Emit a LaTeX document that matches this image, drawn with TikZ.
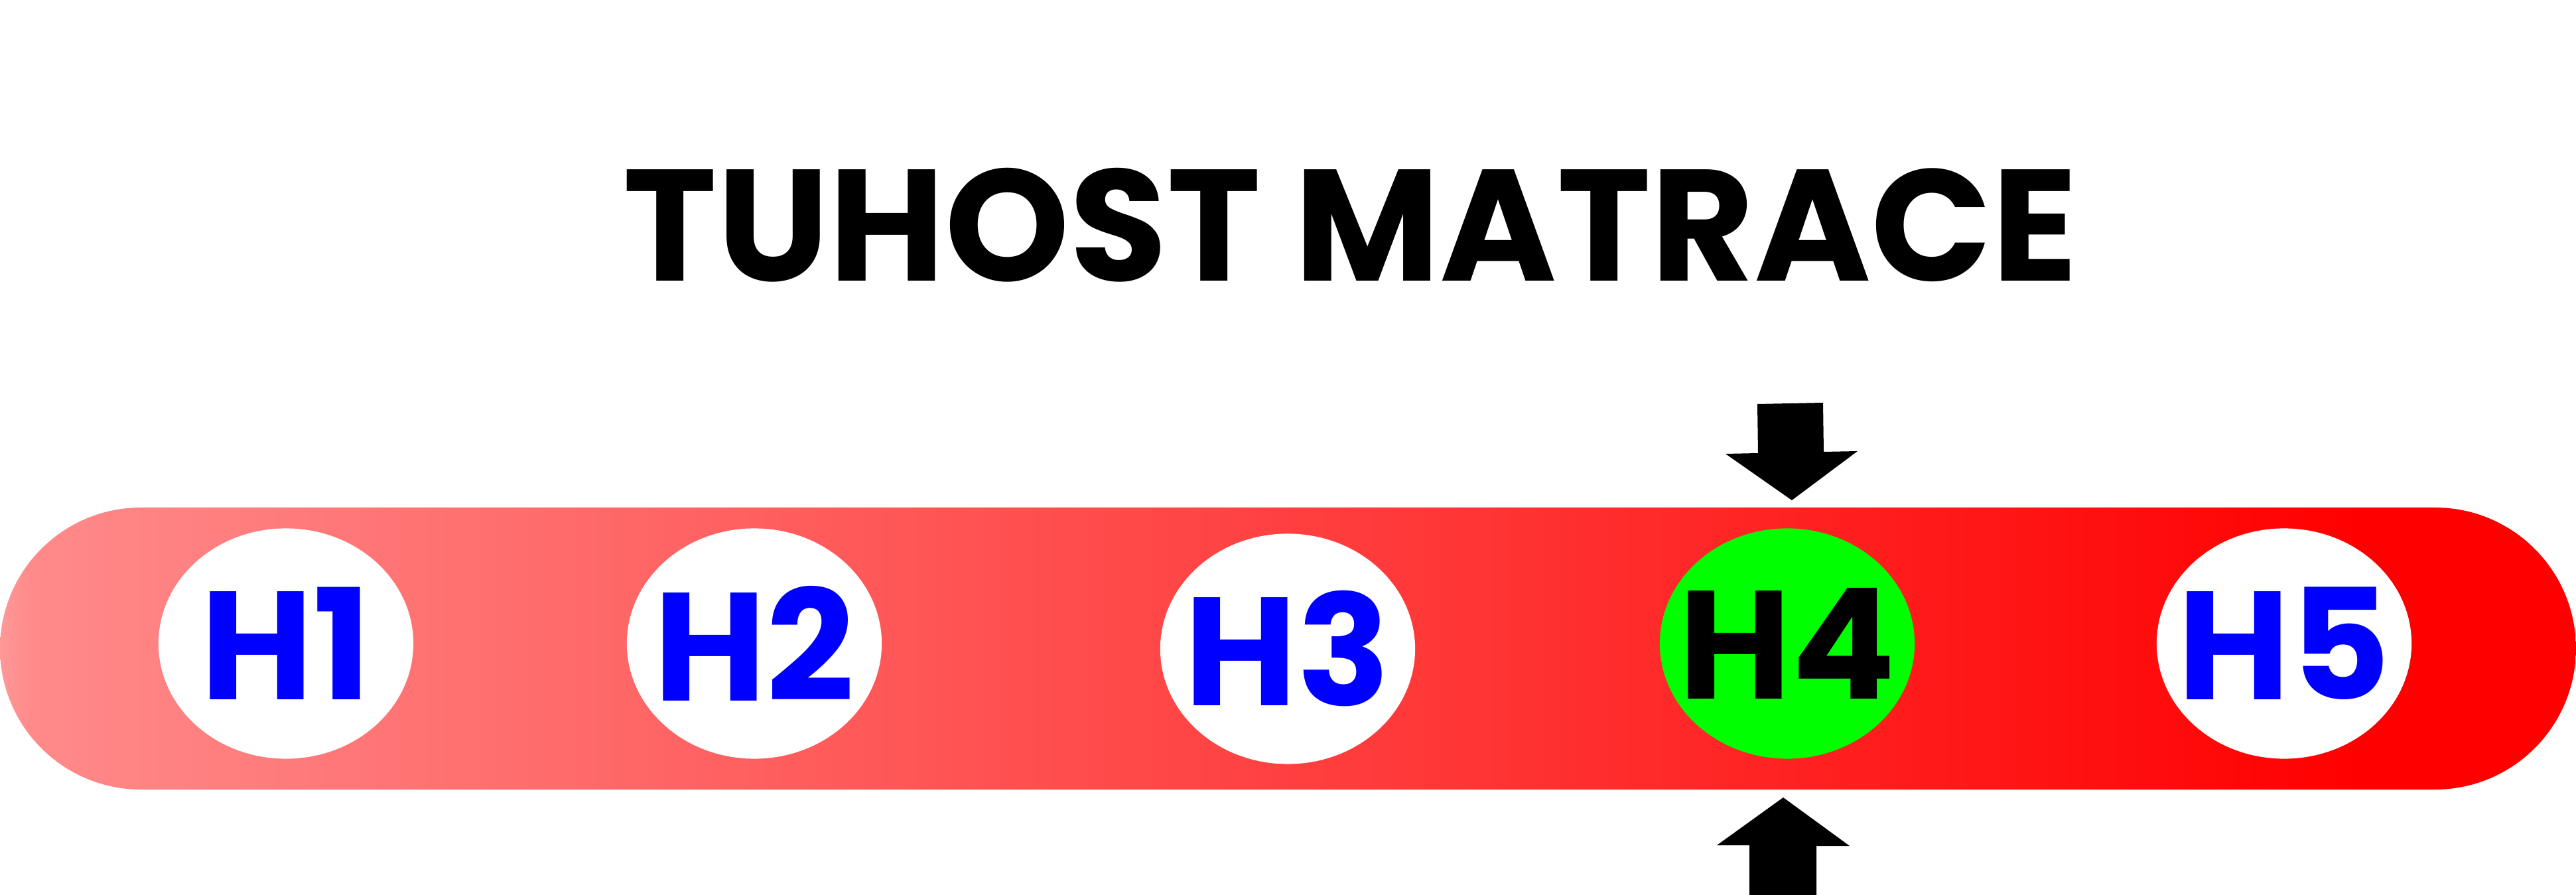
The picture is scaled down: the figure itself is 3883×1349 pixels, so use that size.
\documentclass[tikz,border=0pt]{standalone}
\usepackage{fontspec}
\setmainfont{Poppins}
\usetikzlibrary{shapes.geometric}
\definecolor{barE}{RGB}{255,152,152}
\definecolor{barL}{RGB}{255,138,138}
\definecolor{hblue}{RGB}{0,0,255}
\definecolor{hgreen}{RGB}{0,255,0}
\tikzset{
  hole/.style={ellipse, fill=white, inner sep=0pt, minimum width=3.84cm, minimum height=3.47cm},
  holetext/.style={inner sep=0pt, font=\fontsize{66}{66}\selectfont\bfseries, text=hblue},
  titletext/.style={anchor=base, inner sep=0pt, font=\fontsize{68}{68}\selectfont\bfseries},
  blockarrow/.style={fill=black}
}
\begin{document}
\begin{tikzpicture}[x=0.01cm,y=-0.01cm]
\useasboundingbox (0,0) rectangle (3883,1349);
\fill[white] (0,0) rectangle (3883,1349);
% bar with gradient
\begin{scope}
\clip[rounded corners=2.125cm] (0,765) rectangle (3883,1190);
\shade[left color=barE, right color=barL] (0,760) rectangle (45,1195);
\shade[left color=barL, right color=red] (44,760) rectangle (3560,1195);
\fill[red] (3559,760) rectangle (3890,1195);
\end{scope}
% title
\node[titletext] (title) at (2036,424) {TUHOST MATRACE};
% hardness levels
\node[hole] (h1) at (431,970) {};
\node[hole] (h2) at (1137,970) {};
\node[hole] (h3) at (1941,978) {};
\node[hole, fill=hgreen] (h4) at (2694,970) {};
\node[hole] (h5) at (3443,970) {};
\node[holetext] (t1) at (h1) {H1};
\node[holetext] (t2) at (h2) {H2};
\node[holetext] (t3) at (h3) {H3};
\node[holetext, text=black] (t4) at (h4) {H4};
\node[holetext] (t5) at (h5) {H5};
% arrows
\fill[blockarrow] (2649,609) -- (2748,607) -- (2749,681) -- (2800,680) -- (2701,754) -- (2601,684) -- (2650,683) -- cycle;
\fill[blockarrow] (2688,1202) -- (2788,1275) -- (2738,1275) -- (2738,1355) -- (2637,1355) -- (2637,1274) -- (2588,1274) -- cycle;
\end{tikzpicture}
\end{document}
